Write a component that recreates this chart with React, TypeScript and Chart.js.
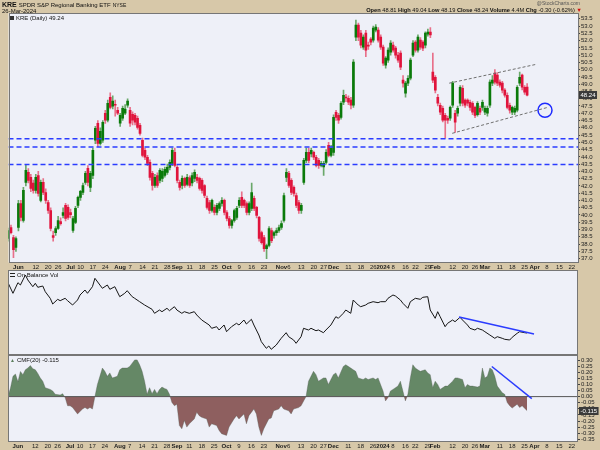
import React, { useEffect, useRef } from "react";
import Chart from "chart.js/auto";

const FONT = "'Liberation Sans', Arial, sans-serif";
const TAN = "#d7c8a9";
const PANEL_BG = "#eef0f8";

// trading-day index: 0 = 1 Jun 2023; first candle = 25 May 2023
const FIRST_DAY = -4;
const OPEN = [
  38.38, 39.14, 38.45, 37.76, 39.14, 40.79, 39.62, 42.24, 42.93, 42.59,
  42.2, 41.69, 42.72, 41.0, 42.24, 41.55, 40.86, 40.31, 38.59, 38.79,
  39.07, 39.55, 39.97, 40.66, 40.52, 40.17, 38.93, 39.48, 40.66, 41.21,
  41.55, 42.24, 43.21, 41.9, 42.72, 45.14, 46.31, 44.93, 45.14, 47.0,
  46.52, 48.1, 47.48, 47.6, 47.21, 46.31, 46.66, 47.0, 47.55, 47.21,
  46.93, 46.86, 46.66, 46.17, 45.14, 44.45, 43.97, 43.62, 42.86, 42.03,
  42.72, 42.38, 42.52, 42.72, 42.93, 43.28, 43.55, 44.31, 43.28, 42.24,
  42.03, 42.52, 42.1, 42.55, 42.2, 42.52, 42.59, 42.52, 42.38, 42.03,
  41.14, 40.86, 40.31, 40.52, 40.17, 40.45, 40.79, 41.0, 40.17, 39.76,
  39.28, 39.62, 39.83, 40.66, 41.21, 41.0, 40.79, 40.17, 40.45, 41.14,
  40.52, 39.83, 38.79, 38.45, 37.69, 37.9, 38.93, 38.59, 38.79, 38.93,
  39.14, 39.62, 42.59, 42.86, 42.38, 41.9, 41.34, 40.86, 40.31, 42.24,
  43.76, 44.31, 44.2, 44.31, 43.97, 43.76, 43.41, 43.3, 43.62, 44.79,
  44.1, 44.31, 47.07, 46.86, 46.72, 47.76, 48.1, 48.03, 47.9, 47.55,
  52.24, 53.07, 52.52, 51.55, 52.52, 51.69, 52.1, 52.03, 52.72, 52.72,
  52.24, 51.55, 50.31, 50.66, 51.2, 51.69, 51.48, 51.0, 51.14, 49.28,
  48.38, 49.07, 49.41, 51.0, 51.9, 51.34, 52.03, 51.9, 51.69, 52.45,
  52.59, 49.83, 49.48, 48.1, 47.55, 47.34, 46.86, 46.66, 46.66, 47.55,
  47.0, 47.0, 47.69, 48.72, 47.9, 47.9, 47.76, 47.69, 47.41, 46.9,
  47.34, 47.41, 47.07, 47.0, 47.55, 49.07, 49.76, 49.62, 49.14, 49.07,
  48.59, 48.24, 47.55, 47.07, 47.07, 47.21, 49.07, 49.62, 48.79, 48.81,
];
const HIGH = [
  39.1, 39.3, 38.6, 38.5, 41.0, 41.0, 41.9, 43.41, 43.2, 42.8,
  42.4, 42.8, 43.0, 42.4, 42.5, 41.8, 41.0, 40.5, 38.9, 39.2,
  39.9, 39.8, 40.5, 40.8, 40.7, 40.4, 39.9, 40.6, 41.3, 41.7,
  42.2, 43.0, 43.4, 43.0, 44.6, 46.1, 46.5, 46.0, 46.5, 47.2,
  47.9, 48.4, 48.2, 47.9, 47.4, 47.0, 47.5, 47.6, 48.0, 47.4,
  47.1, 47.0, 46.8, 46.3, 45.3, 44.6, 44.1, 43.8, 43.0, 42.8,
  42.9, 43.2, 43.2, 43.3, 43.5, 43.8, 44.6, 44.6, 43.4, 42.4,
  42.7, 42.6, 42.8, 42.7, 42.9, 43.1, 42.8, 42.6, 42.5, 42.1,
  41.3, 41.0, 41.1, 40.7, 40.8, 40.9, 41.2, 41.1, 40.3, 39.9,
  39.7, 40.4, 40.6, 41.2, 41.6, 41.1, 40.9, 40.9, 42.2, 41.3,
  40.6, 39.9, 38.9, 38.6, 38.0, 39.2, 39.1, 38.9, 39.1, 39.3,
  39.6, 41.5, 43.2, 43.0, 42.5, 42.0, 41.5, 41.0, 40.8, 43.9,
  44.6, 44.6, 44.6, 44.4, 44.1, 43.9, 43.7, 43.7, 44.5, 45.0,
  44.8, 46.9, 47.2, 47.0, 47.8, 48.6, 48.3, 48.2, 48.1, 50.7,
  53.41, 53.2, 52.7, 52.4, 52.7, 51.9, 52.2, 53.0, 53.1, 52.9,
  52.4, 51.7, 50.9, 51.5, 52.0, 51.9, 51.6, 51.2, 51.3, 49.6,
  49.2, 49.6, 50.8, 52.0, 52.0, 52.4, 52.2, 52.0, 52.6, 52.8,
  52.9, 51.14, 49.6, 48.3, 47.7, 47.5, 47.0, 46.8, 47.5, 49.2,
  47.2, 47.5, 48.9, 48.9, 48.0, 48.0, 47.9, 47.8, 47.5, 47.8,
  47.5, 47.9, 47.5, 47.5, 49.3, 49.6, 50.0, 49.8, 49.3, 49.2,
  48.7, 48.4, 47.7, 47.5, 47.5, 48.9, 49.83, 49.7, 48.9, 49.04,
];
const LOW = [
  38.2, 38.7, 37.07, 37.5, 38.9, 39.6, 39.5, 42.0, 42.2, 41.6,
  41.5, 41.5, 41.3, 40.9, 41.4, 40.8, 40.1, 38.9, 38.2, 38.6,
  39.0, 39.3, 39.8, 39.6, 39.7, 39.8, 38.8, 39.4, 40.5, 41.0,
  41.4, 42.1, 42.0, 41.6, 42.5, 44.9, 44.7, 44.8, 45.0, 46.3,
  46.4, 47.3, 47.3, 46.8, 46.9, 46.1, 46.5, 46.9, 47.4, 46.1,
  46.2, 46.2, 45.9, 45.5, 44.0, 43.8, 43.4, 42.4, 41.7, 41.9,
  41.9, 42.2, 42.3, 42.6, 42.8, 43.1, 43.4, 43.3, 42.2, 41.7,
  41.8, 41.9, 42.0, 41.9, 42.0, 42.3, 42.2, 41.7, 41.5, 41.2,
  40.4, 40.1, 40.2, 40.0, 40.0, 40.3, 40.6, 40.0, 39.6, 39.1,
  39.1, 39.5, 39.7, 40.5, 40.5, 40.5, 40.0, 40.0, 40.3, 40.3,
  39.8, 38.2, 38.0, 37.5, 37.0, 37.8, 38.1, 38.4, 38.6, 38.8,
  39.0, 39.5, 42.3, 41.9, 41.4, 41.3, 40.5, 40.1, 40.1, 42.1,
  43.6, 43.6, 44.0, 43.8, 43.3, 43.2, 43.3, 42.72, 43.5, 44.0,
  44.0, 44.1, 46.5, 46.3, 46.6, 47.6, 47.8, 47.6, 47.3, 47.4,
  52.0, 52.0, 51.5, 51.4, 50.9, 51.4, 51.7, 51.9, 52.6, 51.9,
  51.4, 50.3, 50.1, 50.5, 51.0, 51.2, 50.8, 50.5, 50.0, 48.8,
  48.1, 48.9, 49.3, 50.9, 51.2, 51.2, 51.4, 51.3, 51.5, 52.3,
  52.2, 49.1, 48.4, 47.5, 46.9, 46.4, 45.28, 46.3, 46.5, 47.4,
  45.69, 46.8, 47.5, 47.5, 47.4, 47.5, 47.2, 46.9, 46.7, 46.8,
  46.9, 47.2, 46.9, 46.8, 47.4, 48.9, 49.0, 48.9, 48.8, 48.4,
  48.1, 47.3, 47.0, 46.9, 46.9, 47.1, 48.9, 48.6, 48.3, 48.19,
];
const CLOSE = [
  38.93, 38.79, 37.62, 38.38, 40.79, 39.83, 41.69, 43.07, 42.38, 41.83,
  41.69, 42.59, 41.48, 42.24, 41.55, 41.0, 40.31, 39.07, 38.45, 39.07,
  39.62, 39.41, 40.17, 39.76, 39.83, 40.03, 39.76, 40.45, 41.21, 41.62,
  42.03, 42.86, 42.24, 42.86, 44.45, 45.97, 44.93, 45.76, 46.38, 46.52,
  47.69, 47.41, 47.83, 47.55, 47.0, 46.86, 47.34, 47.28, 47.83, 46.31,
  46.52, 46.38, 46.03, 45.62, 44.1, 43.97, 43.55, 42.59, 42.03, 42.59,
  42.03, 43.07, 43.0, 43.14, 43.28, 43.62, 44.45, 43.41, 42.38, 41.9,
  42.52, 42.03, 42.59, 42.03, 42.72, 42.93, 42.38, 41.83, 41.69, 41.34,
  40.52, 40.31, 41.0, 40.17, 40.66, 40.79, 41.0, 40.17, 39.76, 39.28,
  39.62, 40.31, 40.45, 41.0, 40.66, 40.66, 40.17, 40.79, 41.55, 40.45,
  39.97, 38.38, 38.1, 37.69, 37.9, 39.07, 38.24, 38.79, 38.93, 39.14,
  39.41, 41.34, 42.93, 42.03, 41.55, 41.48, 40.66, 40.31, 40.66, 43.76,
  44.31, 43.76, 44.45, 43.97, 43.41, 43.41, 43.55, 43.55, 44.31, 44.1,
  44.59, 46.72, 46.72, 46.52, 47.69, 48.24, 48.05, 47.76, 47.55, 50.52,
  53.07, 52.24, 51.69, 52.24, 51.34, 51.62, 51.9, 52.86, 52.93, 52.03,
  51.55, 50.45, 50.79, 51.34, 51.83, 51.34, 51.0, 50.66, 50.17, 49.07,
  49.07, 49.41, 50.66, 51.83, 51.34, 52.24, 51.55, 51.48, 52.52, 52.59,
  52.4, 49.28, 48.59, 47.69, 47.07, 46.52, 46.52, 46.52, 47.41, 49.07,
  46.38, 47.34, 48.79, 47.69, 47.55, 47.69, 47.41, 47.07, 46.86, 47.69,
  47.07, 47.76, 47.34, 47.34, 49.14, 49.28, 49.14, 49.07, 48.93, 48.59,
  48.24, 47.41, 47.21, 47.41, 47.34, 48.79, 49.48, 48.79, 48.45, 48.24,
];

const SUPPORT_LEVELS = [45.25, 44.68, 43.47];
const CHANNEL_UP_DAY = [173.6, 209];
const CHANNEL_UP_VAL = [49.07, 50.38];
const CHANNEL_LO_DAY = [174.8, 213.4];
const CHANNEL_LO_VAL = [45.62, 47.41];
const TARGET_DAY = [212.2];
const TARGET_VAL = [47.21];

const OBV_DAY = [-4,-2,0,1,3,4,6,7,8,10,11,13,14,16,17,19,20,22,24,25,27,28,30,31,33,34,36,37,39,41,43,44,46,47,49,51,54,55,57,58,60,61,63,64,66,67,69,71,72,74,77,78,80,81,83,84,86,88,89,91,92,94,95,97,98,100,101,102,104,106,108,109,111,112,114,115,117,118,120,121,123,124,126,128,129,131,132,134,135,137,138,140,141,143,145,146,148,149,151,152,154,155,157,158,160,162,163,165,166,168,169,170,172,173,175,176,178,179,181,182,184,185,187,188,190,192,193,195,196,198,199,201,202,204,205];
const OBV_VAL = [67.3,56.7,67.3,65,75,70,63.3,66.7,62.7,64,58.3,51.7,46,50.7,49.3,51.7,49.3,45,50,55,60,56.7,63.3,71.7,65,61.7,65,60.7,63.3,53.3,56.7,59.3,53.3,51.7,48.3,45,40.7,36.7,40,38.3,41.7,39.3,43.3,40,36.7,38.3,36.7,38.3,35,30,25,21.7,23.3,20,25,18.3,23.3,26.7,25,30,26,30.7,25,15,8.3,1.7,4,0.7,5,11.7,17.3,13.3,10,6.7,13.3,21.7,20,21.7,19.3,20,17.3,20,25,33.3,31.7,36.7,40,36.7,50,45,43.3,45,46.7,48.3,47.3,48.3,48.3,51.7,55,54,50,46.7,41.7,48.3,51.7,50.7,52.7,53.3,40,31.7,38.3,33.3,23.3,26.7,30,28.3,32.7,30,25,21.7,20,21.7,20,18.3,15,11.7,13.3,11.7,10.7,10,12.7,16.7,18.3,17.3,17];
const OBV_TREND_DAY = [177.6, 207.8];
const OBV_TREND_VAL = [33, 16];

const CMF_DAY = [-4,-3,-2,-1,0,1,2,3,4,5,6,7,8,9,10,11,13,14,15,17,18,19,20,21,22,23,24,26,27,28,29,30,31,32,33,34,35,36,37,38,40,41,42,44,45,46,47,48,49,50,51,52,53,54,55,56,57,58,59,60,61,62,63,64,65,66,67,68,69,71,72,73,74,76,77,78,80,81,82,84,85,87,88,89,91,92,93,95,96,97,98,99,101,102,103,105,106,107,109,110,111,113,114,116,117,119,120,121,123,124,125,127,128,129,131,132,134,135,136,137,139,140,141,143,144,145,147,148,149,150,151,153,154,155,156,157,158,159,160,161,162,164,165,166,167,168,169,170,172,173,175,176,177,179,180,181,182,183,185,186,187,188,189,190,191,192,193,195,196,197,198,199,201,202,203,205];
const CMF_VAL = [0,0.07,0.166,0.185,0.121,0.206,0.18,0.22,0.234,0.255,0.228,0.22,0.19,0.153,0.126,0.073,0.059,0.046,0.019,0.013,0.024,-0.008,-0.075,-0.075,-0.089,-0.116,-0.142,-0.102,-0.089,-0.102,-0.089,-0.102,0.0,0.1,0.166,0.234,0.207,0.166,0.194,0.153,0.166,0.22,0.234,0.234,0.247,0.274,0.301,0.301,0.261,0.207,0.126,0.019,0.073,0.024,0.059,0.024,0.059,0.078,0.067,0.059,0.019,-0.048,-0.075,-0.062,-0.237,-0.264,-0.196,-0.25,-0.223,-0.183,-0.129,-0.156,-0.17,-0.183,-0.25,-0.223,-0.237,-0.277,-0.304,-0.318,-0.25,-0.183,-0.156,-0.183,-0.142,-0.223,-0.156,-0.102,-0.142,-0.25,-0.318,-0.264,-0.183,-0.175,-0.116,-0.102,-0.075,-0.102,-0.116,-0.142,-0.102,-0.09,-0.075,0.0,0.126,0.207,0.18,0.126,0.153,0.153,0.1,0.18,0.194,0.153,0.247,0.261,0.234,0.22,0.207,0.153,0.14,0.153,0.14,0.153,0.14,0.153,0.046,-0.035,-0.008,0.046,0.059,0.086,0.126,0.046,-0.035,0.019,0.153,0.261,0.234,0.22,0.207,0.22,0.194,0.18,0.073,0.126,0.1,0.059,0.086,0.086,0.126,0.153,0.153,0.14,0.073,0.1,0.086,0.086,0.078,0.086,0.234,0.153,0.166,0.234,0.22,0.166,0.086,0.032,0.019,-0.048,-0.075,-0.094,-0.062,-0.089,-0.075,-0.115];
const CMF_TREND_DAY = [190.8, 206.9];
const CMF_TREND_VAL = [0.247, -0.016];
const CMF_LAST = -0.115;

const DATE_TICK_DAY = [0,7,12,16,21,25,30,35,41,45,50,55,60,64,69,74,79,84,89,94,99,106,109,114,119,123,127,133,138,143,147,151,156,160,165,168,175,180,184,188,194,199,204,208,213,218,223];
const DATE_TICK_LABEL = ["Jun","12","20","26","Jul","10","17","24","Aug","7","14","21","28","Sep","11","18","25","Oct","9","16","23","Nov","6","13","20","27","Dec","11","18","26","2024","8","16","22","29","Feb","12","20","26","Mar","11","18","25","Apr","8","15","22"];
const PRICE_TICKS = [37.0,37.5,38.0,38.5,39.0,39.5,40.0,40.5,41.0,41.5,42.0,42.5,43.0,43.5,44.0,44.5,45.0,45.5,46.0,46.5,47.0,47.5,48.0,48.5,49.0,49.5,50.0,50.5,51.0,51.5,52.0,52.5,53.0,53.5];
const CMF_TICKS = [0.3,0.25,0.2,0.15,0.1,0.05,0,-0.05,-0.1,-0.15,-0.2,-0.25,-0.3,-0.35];

const X_MIN = -4.0;
const X_MAX = 225.5;
const Y_MIN = 36.73;
const Y_MAX = 53.9;

const UP = "#0a7a0a";
const DOWN = "#e0143c";
const UP_WICK = "#6aa86a";
const DOWN_WICK = "#e8708a";
const BLUE = "#2b3cff";

const pts = (xs: number[], ys: number[]) => xs.map((x, k) => ({ x, y: ys[k] }));

const panelPlugin = {
  id: "panel",
  beforeDraw(c: any) {
    const { left, top, width, height } = c.chartArea;
    const ctx = c.ctx;
    ctx.save();
    ctx.fillStyle = PANEL_BG;
    ctx.fillRect(left, top, width, height);
    ctx.restore();
  },
  afterDraw(c: any) {
    const { left, top, width, height } = c.chartArea;
    const ctx = c.ctx;
    ctx.save();
    ctx.strokeStyle = "#767676";
    ctx.lineWidth = 1;
    ctx.strokeRect(Math.round(left) + 0.5, Math.round(top) + 0.5, Math.round(width) - 1, Math.round(height) - 1);
    ctx.restore();
  },
};

const valueBox = (value: number, text: string) => ({
  id: "valbox",
  afterDraw(c: any) {
    const s = c.scales.y;
    const y = s.getPixelForValue(value);
    const ctx = c.ctx;
    ctx.save();
    ctx.font = `6px ${FONT}`;
    const w = ctx.measureText(text).width + 3;
    const x0 = c.chartArea.right + 1;
    ctx.fillStyle = "#3a3a3a";
    ctx.fillRect(x0, Math.round(y) - 4, w, 8);
    ctx.fillStyle = "#ffffff";
    ctx.textBaseline = "middle";
    ctx.fillText(text, x0 + 1.5, Math.round(y) + 0.5);
    ctx.restore();
  },
});

function xScale(show: boolean) {
  return {
    type: "linear",
    min: X_MIN,
    max: X_MAX,
    offset: false,
    display: show,
    grid: { display: false, drawTicks: false },
    border: { display: false },
    afterBuildTicks: (s: any) => {
      s.ticks = DATE_TICK_DAY.map((v) => ({ value: v }));
    },
    afterFit: (s: any) => {
      s.height = show ? 8 : 0;
      s.paddingLeft = 0;
      s.paddingRight = 0;
    },
    ticks: {
      autoSkip: false,
      maxRotation: 0,
      minRotation: 0,
      padding: 1,
      color: "#1a1a1a",
      font: (ctx: any) => ({
        family: FONT,
        size: 6,
        weight: /^[A-Z]|^2024$/.test(DATE_TICK_LABEL[ctx.index] ?? "") ? "bold" : "normal",
      }),
      callback: (_v: any, i: number) => DATE_TICK_LABEL[i],
    },
  };
}

function baseOptions(extra: any) {
  return {
    responsive: false,
    animation: false,
    devicePixelRatio: 1,
    events: [],
    plugins: { legend: { display: false }, tooltip: { enabled: false } },
    ...extra,
  };
}

function mainConfig(): any {
  const days = CLOSE.map((_, k) => FIRST_DAY + k);
  const isUp = CLOSE.map((c, k) => c >= OPEN[k]);
  const lineDs = (data: any[], color: string, width: number, dash: number[]) => ({
    type: "line",
    data,
    borderColor: color,
    borderWidth: width,
    borderDash: dash,
    pointRadius: 0,
    fill: false,
    order: 1,
  });
  return {
    type: "bar",
    data: {
      datasets: [
        {
          type: "bar",
          data: days.map((d, k) => ({ x: d, y: [LOW[k], HIGH[k]] })),
          backgroundColor: isUp.map((u) => (u ? UP_WICK : DOWN_WICK)),
          barThickness: 1,
          grouped: false,
          order: 4,
        },
        {
          type: "bar",
          data: days.map((d, k) => ({ x: d, y: [OPEN[k], CLOSE[k]] })),
          backgroundColor: isUp.map((u) => (u ? UP : DOWN)),
          barThickness: 2,
          minBarLength: 1,
          grouped: false,
          order: 3,
        },
        ...SUPPORT_LEVELS.map((lv) =>
          lineDs([{ x: X_MIN, y: lv }, { x: X_MAX, y: lv }], BLUE, 1.5, [5, 3])
        ),
        lineDs(pts(CHANNEL_UP_DAY, CHANNEL_UP_VAL), "#707070", 1, [3, 2]),
        lineDs(pts(CHANNEL_LO_DAY, CHANNEL_LO_VAL), "#707070", 1, [3, 2]),
        {
          type: "line",
          data: pts(TARGET_DAY, TARGET_VAL),
          showLine: false,
          pointRadius: 7,
          pointBorderWidth: 1.5,
          pointBorderColor: "#1e2bff",
          pointBackgroundColor: "rgba(0,0,0,0)",
          order: 0,
        },
      ],
    },
    options: baseOptions({
      layout: { padding: { left: 8, top: 13, right: 0, bottom: 0 } },
      scales: {
        x: xScale(true),
        y: {
          type: "linear",
          position: "right",
          min: Y_MIN,
          max: Y_MAX,
          afterBuildTicks: (s: any) => {
            s.ticks = PRICE_TICKS.map((v) => ({ value: v }));
          },
          afterFit: (s: any) => {
            s.width = 22;
            s.paddingTop = 0;
            s.paddingBottom = 0;
          },
          grid: { drawOnChartArea: false, drawTicks: true, tickLength: 2, color: "#444" },
          border: { display: false },
          ticks: {
            autoSkip: false,
            padding: 1,
            color: "#222",
            font: { family: FONT, size: 6 },
            callback: (v: any) => Number(v).toFixed(1),
          },
        },
      },
    }),
    plugins: [panelPlugin, valueBox(CLOSE[CLOSE.length - 1], CLOSE[CLOSE.length - 1].toFixed(2))],
  };
}

function obvConfig(): any {
  return {
    type: "line",
    data: {
      datasets: [
        {
          data: pts(OBV_DAY, OBV_VAL),
          borderColor: "#151515",
          borderWidth: 1,
          pointRadius: 0,
          fill: false,
          order: 2,
        },
        {
          data: pts(OBV_TREND_DAY, OBV_TREND_VAL),
          borderColor: BLUE,
          borderWidth: 1.5,
          pointRadius: 0,
          fill: false,
          order: 1,
        },
      ],
    },
    options: baseOptions({
      layout: { padding: { left: 8, top: 0, right: 22, bottom: 0 } },
      scales: {
        x: xScale(false),
        y: { type: "linear", display: false, min: -5, max: 80 },
      },
    }),
    plugins: [panelPlugin],
  };
}

function cmfConfig(): any {
  return {
    type: "line",
    data: {
      datasets: [
        {
          data: pts(CMF_DAY, CMF_VAL),
          borderColor: "rgba(80,90,80,0.6)",
          borderWidth: 0.6,
          pointRadius: 0,
          fill: { target: { value: 0 }, above: "#658866", below: "#8e5f5f" },
          order: 3,
        },
        {
          data: [{ x: X_MIN, y: 0 }, { x: X_MAX, y: 0 }],
          borderColor: "#555",
          borderWidth: 1,
          pointRadius: 0,
          fill: false,
          order: 2,
        },
        {
          data: pts(CMF_TREND_DAY, CMF_TREND_VAL),
          borderColor: BLUE,
          borderWidth: 1.5,
          pointRadius: 0,
          fill: false,
          order: 1,
        },
      ],
    },
    options: baseOptions({
      layout: { padding: { left: 8, top: 0, right: 0, bottom: 0 } },
      scales: {
        x: xScale(true),
        y: {
          type: "linear",
          position: "right",
          min: -0.372,
          max: 0.341,
          afterBuildTicks: (s: any) => {
            s.ticks = CMF_TICKS.map((v) => ({ value: v }));
          },
          afterFit: (s: any) => {
            s.width = 22;
            s.paddingTop = 0;
            s.paddingBottom = 0;
          },
          grid: { drawOnChartArea: false, drawTicks: true, tickLength: 2, color: "#444" },
          border: { display: false },
          ticks: {
            autoSkip: false,
            padding: 1,
            color: "#222",
            font: { family: FONT, size: 6 },
            callback: (v: any) => Number(v).toFixed(2),
          },
        },
      },
    }),
    plugins: [panelPlugin, valueBox(CMF_LAST, CMF_LAST.toFixed(3))],
  };
}

const abs = (pos: any, extra: any = {}) => ({
  position: "absolute" as const,
  lineHeight: 1,
  whiteSpace: "nowrap" as const,
  color: "#111",
  ...pos,
  ...extra,
});

export default function App() {
  const r1 = useRef<HTMLCanvasElement>(null);
  const r2 = useRef<HTMLCanvasElement>(null);
  const r3 = useRef<HTMLCanvasElement>(null);

  useEffect(() => {
    const charts = [
      new Chart(r1.current as HTMLCanvasElement, mainConfig()),
      new Chart(r2.current as HTMLCanvasElement, obvConfig()),
      new Chart(r3.current as HTMLCanvasElement, cmfConfig()),
    ];
    return () => charts.forEach((c) => c.destroy());
  }, []);

  return (
    <div
      style={{
        position: "absolute",
        left: 0,
        top: 0,
        width: 600,
        height: 450,
        background: TAN,
        overflow: "hidden",
        fontFamily: FONT,
      }}
    >
      <canvas ref={r1} width={600} height={271} style={{ position: "absolute", left: 0, top: 0 }} />
      <canvas ref={r2} width={600} height={85} style={{ position: "absolute", left: 0, top: 270 }} />
      <canvas ref={r3} width={600} height={95} style={{ position: "absolute", left: 0, top: 355 }} />

      <div style={abs({ left: 2, top: 1 }, { fontSize: 7, fontWeight: "bold" })}>
        KRE{" "}
        <span style={{ fontWeight: "normal", fontSize: 6 }}>SPDR S&amp;P Regional Banking ETF</span>{" "}
        <span style={{ fontWeight: "normal", fontSize: 5 }}>NYSE</span>
      </div>
      <div style={abs({ left: 2, top: 8 }, { fontSize: 6 })}>26-Mar-2024</div>
      <div style={abs({ right: 20, top: 1 }, { fontSize: 5, color: "#555" })}>@StockCharts.com</div>
      <div style={abs({ right: 18, top: 8 }, { fontSize: 5.7 })}>
        <b>Open</b> 48.81 <b>High</b> 49.04 <b>Low</b> 48.19 <b>Close</b> 48.24 <b>Volume</b> 4.4M{" "}
        <b>Chg</b> -0.30 (-0.62%) <span style={{ color: "#d01010" }}>▼</span>
      </div>

      <div style={abs({ left: 10, top: 15 }, { fontSize: 6 })}>
        <span style={{ display: "inline-block", width: 4, height: 4, background: "#333", marginRight: 2, verticalAlign: "middle" }} />
        KRE (Daily) 49.24
      </div>
      <div style={abs({ left: 10, top: 272 }, { fontSize: 6 })}>
        <span style={{ display: "inline-block", width: 5, height: 2, borderTop: "1px solid #222", borderBottom: "1px solid #222", marginRight: 2, verticalAlign: "middle" }} />
        On Balance Vol
      </div>
      <div style={abs({ left: 10, top: 357 }, { fontSize: 6 })}>
        <span style={{ color: "#5d7f5d", fontSize: 5, marginRight: 2 }}>▲</span>
        CMF(20) -0.115
      </div>
    </div>
  );
}
